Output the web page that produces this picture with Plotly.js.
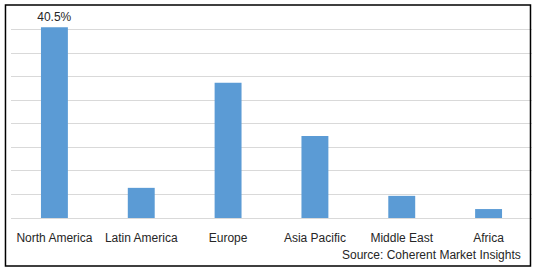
<!DOCTYPE html>
<html>
<head>
<meta charset="utf-8">
<script src="https://cdn.plot.ly/plotly-3.0.1.min.js"></script>
<style>html,body{margin:0;padding:0;background:#fff;}#chart{width:538px;height:272px;}</style>
</head>
<body>
<div id="chart"></div>
<script>
const categories = ["North America", "Latin America", "Europe", "Asia Pacific", "Middle East", "Africa"];
const shares = [40.5, 6.4, 28.7, 17.4, 4.7, 1.9];
const dataLabels = ["40.5%", "", "", "", "", ""];
const sourceText = "Source: Coherent Market Insights";

const trace = {
  type: "bar",
  x: categories,
  y: shares,
  text: dataLabels,
  textposition: "outside",
  constraintext: "none",
  cliponaxis: false,
  textfont: {family: "Liberation Sans, Arial, sans-serif", size: 12, color: "#262626"},
  marker: {color: "#5b9bd5"},
  width: 0.31,
  hoverinfo: "none"
};

const layout = {
  width: 538, height: 272,
  margin: {l: 11, r: 6, t: 6, b: 54},
  paper_bgcolor: "#ffffff",
  plot_bgcolor: "#ffffff",
  showlegend: false,
  font: {family: "Liberation Sans, Arial, sans-serif", size: 12, color: "#262626"},
  xaxis: {
    type: "category",
    showgrid: false,
    showline: false,
    zeroline: false,
    ticks: "",
    ticklabelstandoff: 11,
    tickfont: {family: "Liberation Sans, Arial, sans-serif", size: 12, color: "#262626"},
    fixedrange: true
  },
  yaxis: {
    range: [0, 45],
    dtick: 5,
    showticklabels: false,
    showgrid: true,
    gridcolor: "#d9d9d9",
    gridwidth: 1,
    zeroline: true,
    zerolinecolor: "#d9d9d9",
    zerolinewidth: 1,
    showline: false,
    ticks: "",
    fixedrange: true
  },
  shapes: [{
    type: "rect", xref: "paper", yref: "paper",
    x0: -0.0106, x1: 0.9971, y0: -0.2264, y1: 1.0047,
    line: {color: "#000000", width: 1.5},
    fillcolor: "rgba(0,0,0,0)", layer: "above"
  }],
  annotations: [{
    text: sourceText,
    xref: "paper", yref: "paper",
    x: 0.9821, y: -0.175,
    xanchor: "right", yanchor: "middle",
    showarrow: false,
    font: {family: "Liberation Sans, Arial, sans-serif", size: 12, color: "#262626"}
  }]
};

Plotly.newPlot("chart", [trace], layout, {staticPlot: true, displayModeBar: false});
</script>
</body>
</html>
